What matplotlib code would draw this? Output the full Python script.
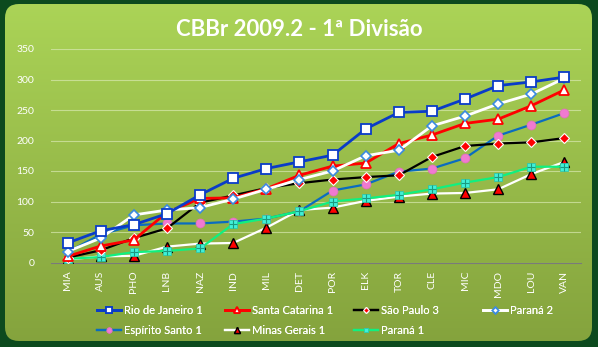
import matplotlib
matplotlib.use("Agg")
import matplotlib.pyplot as plt
import numpy as np
from matplotlib.patches import FancyBboxPatch

rounds = ["MIA", "AUS", "PHO", "LNB", "NAZ", "IND", "MIL", "DET",
          "POR", "ELK", "TOR", "CLE", "MIC", "MDO", "LOU", "VAN"]

rio = [32, 52, 62, 80, 111, 138, 154, 165, 176, 219, 246, 248, 268, 290, 296, 304]
santa_catarina = [10, 27, 37, 82, 105, 106, 121, 143, 158, 163, 195, 209, 228, 235, 257, 283]
sao_paulo = [8, 20, 40, 56, 98, 110, 122, 130, 136, 140, 143, 173, 191, 195, 197, 204]
parana2 = [18, 40, 78, 86, 90, 104, 120, 136, 150, 175, 184, 224, 240, 260, 276, 302]
espirito_santo = [17, 46, 61, 64, 64, 67, 72, 84, 118, 128, 149, 154, 171, 208, 226, 245]
minas = [5, 10, 11, 26, 31, 32, 57, 86, 90, 101, 108, 113, 114, 120, 145, 165]
parana1 = [6, 9, 17, 19, 23, 63, 72, 84, 100, 105, 111, 120, 131, 140, 157, 157]

FONT = ["Lato", "DejaVu Sans"]
W, H = 598, 347

fig = plt.figure(figsize=(W / 100, H / 100), dpi=100)
fig.patch.set_facecolor("#0c4a1e")

# background panel with vertical gradient
bg = fig.add_axes([0, 0, 1, 1])
bg.set_xlim(0, W)
bg.set_ylim(H, 0)
bg.axis("off")
grad = np.linspace(0, 1, 256).reshape(-1, 1)
top = np.array([0.67, 0.83, 0.34])
bot = np.array([0.52, 0.64, 0.24])
img = top + (bot - top) * grad[..., None]
panel = FancyBboxPatch((5, 4), 587, 337, boxstyle="round,pad=0,rounding_size=14",
                       transform=bg.transData, facecolor="none", edgecolor="none")
bg.add_patch(panel)
im = bg.imshow(img, extent=[5, 592, 341, 4], aspect="auto", zorder=0)
im.set_clip_path(panel)

fig.text(299 / W, 1 - 30 / H, "CBBr 2009.2 - 1ª Divisão", color="white",
         fontsize=16, fontweight="bold", family=FONT, ha="center", va="center")

ax = fig.add_axes([51 / W, 1 - 262.5 / H, 530 / W, 213.5 / H])
ax.patch.set_alpha(0)
x = np.arange(len(rounds))

lines = []
lines += ax.plot(x, rio, color="#0a3cc8", lw=2, marker="s", ms=6.5, mfc="white",
                 mec="#0a3cc8", mew=1.3, label="Rio de Janeiro 1", zorder=9)
lines += ax.plot(x, santa_catarina, color="#ff0000", lw=2, marker="^", ms=7, mfc="white",
                 mec="#ff0000", mew=1.3, label="Santa Catarina 1", zorder=8)
lines += ax.plot(x, sao_paulo, color="black", lw=1.6, marker="D", ms=5, mfc="#ff0000",
                 mec="white", mew=0.8, label="São Paulo 3", zorder=7)
lines += ax.plot(x, parana2, color="white", lw=2, marker="D", ms=5.5, mfc="white",
                 mec="#3a8ae0", mew=1.2, label="Paraná 2", zorder=8)
lines += ax.plot(x, espirito_santo, color="#0a6cc0", lw=1.6, marker="o", ms=6.5,
                 mfc="#f07ad0", mec="#e070b8", mew=0.5, label="Espírito Santo 1", zorder=6)
lines += ax.plot(x, minas, color="white", lw=1.6, marker="^", ms=6.5, mfc="#ff0000",
                 mec="black", mew=1, label="Minas Gerais 1", zorder=5)
lines += ax.plot(x, parana1, color="#10f080", lw=1.6, marker="s", ms=6, mfc="#40f0d8",
                 mec="#30c8a8", mew=0.6, label="Paraná 1", zorder=6)
ax.plot(x, parana1, ls="none", marker="+", ms=6, mec="#1a9a80", mew=0.8, zorder=6)

ax.set_xlim(-0.5, len(rounds) - 0.5)
ax.set_ylim(0, 350)
ax.set_yticks(range(0, 351, 50))
ax.set_xticks(x)
ax.set_xticklabels(rounds, rotation=90)
ax.grid(axis="y", color="#d8e8b0", lw=0.8, alpha=0.7)
ax.set_axisbelow(True)
for s in ["top", "right", "left"]:
    ax.spines[s].set_visible(False)
ax.spines["bottom"].set_color("#7a7a7a")
ax.tick_params(axis="both", length=0, colors="white", labelsize=7.5, pad=6)
ax.tick_params(axis="y", pad=12)
for lab in ax.get_xticklabels() + ax.get_yticklabels():
    lab.set_family(FONT)

# legend: 4 columns at fixed positions, 2 rows
col_x = [97, 225, 354, 483]
row_y = [310, 330]
for i, ln in enumerate(lines):
    r, c = divmod(i, 4)
    lg = fig.legend([ln], [ln.get_label()], loc="center left",
                    bbox_to_anchor=(col_x[c] / W, 1 - row_y[r] / H),
                    frameon=False, prop={"family": FONT, "size": 8},
                    labelcolor="white", handlelength=2.2, handletextpad=0.25,
                    markerscale=0.6, borderaxespad=0, borderpad=0)
    fig.add_artist(lg)

fig.savefig("out.png", dpi=100, facecolor=fig.get_facecolor())
